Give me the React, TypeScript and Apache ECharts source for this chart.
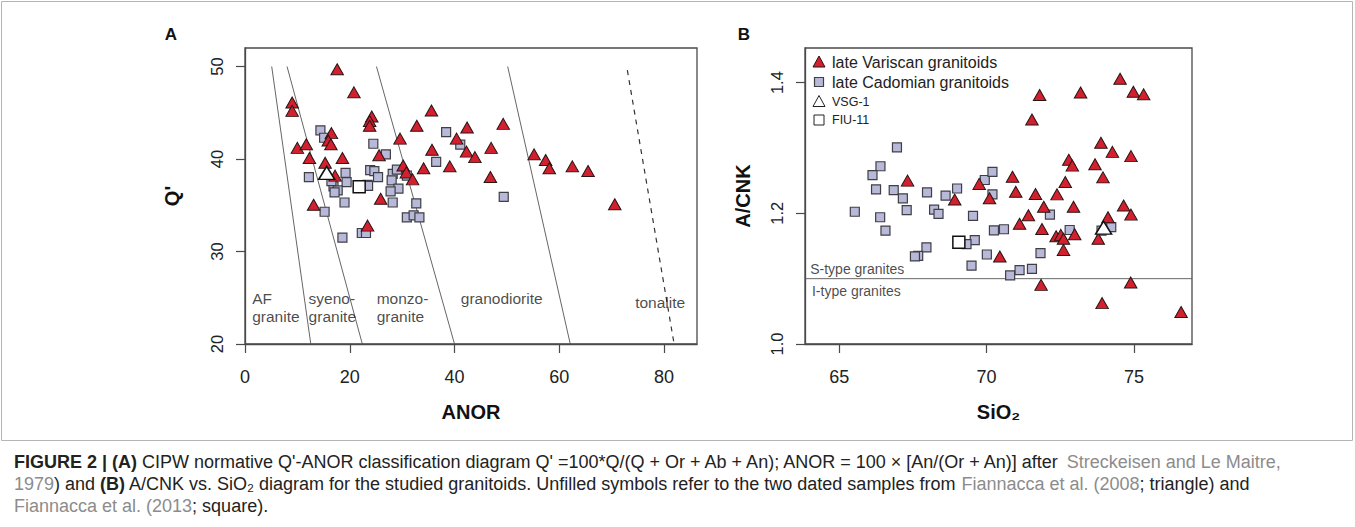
import React, { useEffect, useRef } from 'react';
import * as echarts from 'echarts';

// ---------- DATA ----------
const anorTicks = [0, 20, 40, 60, 80];
const qTicks = [20, 30, 40, 50];
const sio2Ticks = [65, 70, 75];
const acnkTicks = [1.0, 1.2, 1.4];

// Panel A: [ANOR, Q']
const aVariscan = [
  [17.6, 49.7], [20.8, 47.2], [9.0, 46.1], [9.0, 45.2], [24.2, 44.6], [23.8, 44.1], [23.8, 43.6],
  [35.6, 45.25], [32.8, 43.6], [42.4, 43.4], [16.5, 42.8], [15.9, 42.0], [16.4, 41.6], [29.6, 42.2],
  [40.4, 42.2], [10.0, 41.2], [11.7, 41.6], [35.7, 41.0], [42.3, 40.8], [12.3, 40.1], [18.6, 40.1],
  [25.6, 40.4], [15.3, 39.6], [30.2, 39.3], [34.1, 39.0], [39.1, 39.2], [30.8, 38.55], [17.2, 38.2],
  [32.0, 37.8], [13.1, 35.06], [25.9, 35.7], [23.4, 32.8], [49.3, 43.8], [43.9, 40.2], [47.0, 41.2],
  [46.85, 38.05], [55.2, 40.5], [57.4, 39.9], [58.1, 39.0], [62.5, 39.2], [65.5, 38.7], [70.6, 35.1],
];
const aCadomian = [
  [14.4, 43.1], [15.1, 42.3], [24.5, 41.65], [26.9, 40.5], [38.4, 42.9], [41.1, 41.55], [36.5, 39.7],
  [12.2, 38.05], [19.2, 38.5], [19.4, 37.5], [16.9, 37.05], [17.7, 36.6], [17.1, 36.4], [23.9, 38.8],
  [24.7, 38.7], [25.4, 38.05], [23.4, 37.2], [28.2, 38.4], [29.0, 38.85], [28.0, 37.7], [29.3, 36.8],
  [27.8, 36.5], [28.2, 35.3], [19.0, 35.3], [15.2, 34.3], [32.7, 35.2], [30.9, 33.7], [32.2, 33.9],
  [33.3, 33.7], [22.3, 32.0], [23.1, 32.0], [18.6, 31.5], [30.9, 38.2], [49.4, 35.9], [23.5, 37.1],
  [16.5, 37.6],
];
const aVSG1 = [[15.6, 38.5]];
const aFIU11 = [[21.8, 37.0]];

// Panel B: [SiO2, A/CNK]
const bVariscan = [
  [71.8, 1.381], [71.54, 1.3435], [67.32, 1.25], [69.75, 1.245], [68.92, 1.221], [70.1, 1.223],
  [70.88, 1.256], [70.99, 1.233], [71.66, 1.2295], [72.39, 1.229], [71.94, 1.21], [72.67, 1.248],
  [72.95, 1.21], [71.42, 1.197], [71.12, 1.184], [71.88, 1.176], [72.36, 1.165], [72.52, 1.167],
  [72.61, 1.161], [72.99, 1.168], [72.61, 1.144], [73.79, 1.161], [74.65, 1.212], [74.9, 1.198],
  [74.12, 1.194], [70.45, 1.134], [71.85, 1.0905], [74.89, 1.094], [73.92, 1.0626], [76.6, 1.049],
  [74.53, 1.406], [73.19, 1.385], [74.98, 1.386], [75.33, 1.382], [73.88, 1.308], [74.27, 1.294],
  [74.9, 1.2875], [72.79, 1.282], [72.91, 1.273], [73.68, 1.275], [73.95, 1.255],
];
const bCadomian = [
  [66.96, 1.301], [66.4, 1.272], [66.13, 1.2585], [66.25, 1.2366], [66.85, 1.2356], [67.16, 1.223],
  [67.98, 1.232], [68.61, 1.227], [69.0, 1.238], [69.94, 1.251], [70.2, 1.2635], [70.2, 1.229],
  [65.53, 1.2024], [67.29, 1.205], [66.39, 1.194], [66.57, 1.1735], [68.22, 1.2055], [68.37, 1.199],
  [69.54, 1.196], [72.15, 1.198], [70.25, 1.174], [70.59, 1.1756], [72.82, 1.1745], [69.6, 1.159],
  [69.32, 1.153], [67.96, 1.148], [67.68, 1.135], [67.57, 1.134], [70.01, 1.137], [71.83, 1.139],
  [69.49, 1.12], [70.8, 1.105], [71.12, 1.113], [71.54, 1.115], [73.9, 1.1735], [74.23, 1.179],
];
const bVSG1 = [[73.97, 1.178]];
const bFIU11 = [[69.06, 1.1557]];

// Classification field boundaries (panel A)
const fieldBoundaries = [
  [[5.1, 50], [12.56, 20]],
  [[8.03, 50], [22.4, 20]],
  [[25.1, 50], [40.0, 20]],
  [[50.15, 50], [62.1, 20]],
];
const tonaliteBoundary = [[73.0, 49.6], [81.9, 20.1]];
const fieldLabels = [
  { name: 'AF\ngranite', value: [1.28, 23.9] },
  { name: 'syeno-\ngranite', value: [12.05, 23.9] },
  { name: 'monzo-\ngranite', value: [25.05, 23.9] },
  { name: 'granodiorite', value: [41.1, 24.9] },
  { name: 'tonalite', value: [74.4, 24.54] },
];
// S/I-type divide (panel B)
const siDivide = [[63.84, 1.1], [76.97, 1.1]];
const siLabels = [
  { name: 'S-type granites', value: [64.0, 1.1145] },
  { name: 'I-type granites', value: [64.06, 1.0818] },
];

const legendItems = ['late Variscan granitoids', 'late Cadomian granitoids', 'VSG-1', 'FIU-11'];

// ---------- STYLE ----------
const FONT = 'Liberation Sans, Arial, Helvetica, sans-serif';
const RED = '#d3202f';
const LAV = '#b8b9d9';
const BOX = '#4a4a4a';

const gridA = { left: 245, top: 48, width: 452, height: 296 };
const gridB = { left: 805, top: 48, width: 387, height: 296 };

function xAxisBase(min: number, max: number, ticks: number[], gridIndex: number, name: string) {
  return {
    type: 'value', gridIndex, min, max, name,
    nameLocation: 'middle', nameGap: 58,
    nameTextStyle: { fontFamily: FONT, fontWeight: 'bold', fontSize: 20, color: '#111' },
    axisLine: { show: true, onZero: false, lineStyle: { color: BOX, width: 1.3 } },
    axisTick: { show: true, inside: false, length: 9, customValues: ticks, lineStyle: { color: BOX, width: 1.2 } },
    axisLabel: { show: true, customValues: ticks, margin: 24, fontFamily: FONT, fontSize: 18, color: '#222' },
    splitLine: { show: false },
  };
}
function yAxisBase(min: number, max: number, ticks: number[], gridIndex: number, name: string, gap: number, dec: number) {
  return {
    type: 'value', gridIndex, min, max, name,
    nameLocation: 'middle', nameGap: gap, nameRotate: 90,
    nameTextStyle: { fontFamily: FONT, fontWeight: 'bold', fontSize: 20, color: '#111' },
    axisLine: { show: true, onZero: false, lineStyle: { color: BOX, width: 1.3 } },
    axisTick: { show: true, inside: false, length: 9, customValues: ticks, lineStyle: { color: BOX, width: 1.2 } },
    axisLabel: {
      show: true, customValues: ticks, rotate: 90, margin: 20, fontFamily: FONT, fontSize: 16.5, color: '#222',
      formatter: (v: number) => v.toFixed(dec),
    },
    splitLine: { show: false },
  };
}

function scatter(data: number[][], idx: number, kind: string, z: number) {
  const base: any = {
    type: 'scatter', data, xAxisIndex: idx, yAxisIndex: idx, z, silent: true,
  };
  if (kind === 'tri') {
    base.symbol = 'triangle'; base.symbolSize = [12.5, 11];
    base.itemStyle = { color: RED, borderColor: '#2a1414', borderWidth: 1, opacity: 1 };
  } else if (kind === 'sq') {
    base.symbol = 'rect'; base.symbolSize = 9;
    base.itemStyle = { color: LAV, borderColor: '#3f3f46', borderWidth: 1.2, opacity: 1 };
  } else if (kind === 'otri') {
    base.symbol = 'triangle'; base.symbolSize = [16, 13];
    base.itemStyle = { color: '#ffffff', borderColor: '#111', borderWidth: 1.5, opacity: 1 };
  } else {
    base.symbol = 'rect'; base.symbolSize = 12;
    base.itemStyle = { color: '#ffffff', borderColor: '#111', borderWidth: 1.5, opacity: 1 };
  }
  return base;
}

function lineSeries(data: number[][], idx: number, dashed: boolean) {
  return {
    type: 'line', data, xAxisIndex: idx, yAxisIndex: idx, symbol: 'none', silent: true, z: 1,
    lineStyle: { color: dashed ? '#333' : '#555', width: dashed ? 1.2 : 0.9, type: dashed ? [5, 5] : 'solid' },
  };
}

function labelSeries(data: any[], idx: number, fontSize: number) {
  return {
    type: 'scatter', data, xAxisIndex: idx, yAxisIndex: idx, symbolSize: 1, silent: true, z: 2,
    itemStyle: { color: 'rgba(0,0,0,0)' },
    label: {
      show: true, position: 'right', distance: 0, formatter: '{b}',
      fontFamily: FONT, fontSize, lineHeight: 18, color: '#1a1a1a', align: 'left',
    },
  };
}

export default function App() {
  const ref = useRef<HTMLDivElement>(null);
  useEffect(() => {
    document.body.style.margin = '0';
    if (!ref.current) return;
    const chart = echarts.init(ref.current, undefined, { renderer: 'svg' });

    const lx = 819;
    const legendY = [62, 82, 101.5, 120];
    const graphic: any[] = [
      { type: 'rect', shape: { x: 1.5, y: 1.5, width: 1351, height: 439 }, style: { fill: 'none', stroke: '#b5b5b5', lineWidth: 1 }, z: 0 },
      { type: 'text', x: 171, y: 34, style: { text: 'A', fontFamily: FONT, fontWeight: 'bold', fontSize: 17, fill: '#111', align: 'center', verticalAlign: 'middle' } },
      { type: 'text', x: 744, y: 34, style: { text: 'B', fontFamily: FONT, fontWeight: 'bold', fontSize: 17, fill: '#111', align: 'center', verticalAlign: 'middle' } },
      // legend markers
      { type: 'polygon', shape: { points: [[lx - 6, legendY[0] + 5], [lx + 6, legendY[0] + 5], [lx, legendY[0] - 6]] }, style: { fill: RED, stroke: '#2a1414', lineWidth: 1 }, z: 10 },
      { type: 'rect', shape: { x: lx - 4.5, y: legendY[1] - 4.5, width: 9, height: 9 }, style: { fill: LAV, stroke: '#3f3f46', lineWidth: 1.2 }, z: 10 },
      { type: 'polygon', shape: { points: [[lx - 6, legendY[2] + 5], [lx + 6, legendY[2] + 5], [lx, legendY[2] - 6]] }, style: { fill: '#fff', stroke: '#222', lineWidth: 1 }, z: 10 },
      { type: 'rect', shape: { x: lx - 5, y: legendY[3] - 5, width: 10, height: 10 }, style: { fill: '#fff', stroke: '#222', lineWidth: 1 }, z: 10 },
      { type: 'text', x: 832, y: legendY[0], style: { text: legendItems[0], fontFamily: FONT, fontSize: 16, fill: '#222', verticalAlign: 'middle' }, z: 10 },
      { type: 'text', x: 832, y: legendY[1], style: { text: legendItems[1], fontFamily: FONT, fontSize: 16, fill: '#222', verticalAlign: 'middle' }, z: 10 },
      { type: 'text', x: 832, y: legendY[2], style: { text: legendItems[2], fontFamily: FONT, fontSize: 12.5, fill: '#222', verticalAlign: 'middle' }, z: 10 },
      { type: 'text', x: 832, y: legendY[3], style: { text: legendItems[3], fontFamily: FONT, fontSize: 12.5, fill: '#222', verticalAlign: 'middle' }, z: 10 },
    ];
    const CAP = 18;
    const capStyle = {
      fontFamily: FONT, fontSize: CAP, fill: '#222', verticalAlign: 'middle',
      rich: {
        b: { fontFamily: FONT, fontSize: CAP, fontWeight: 'bold', fill: '#222' },
        g: { fontFamily: FONT, fontSize: CAP, fill: '#8c8c8c' },
      },
    };
    const capLines = [
      "{b|FIGURE 2 | (A)} CIPW normative Q'-ANOR classification diagram Q' =100*Q/(Q + Or + Ab + An); ANOR = 100 × [An/(Or + An)] after{g| Streckeisen and Le Maitre,}",
      '{g|1979}) and {b|(B)} A/CNK vs. SiO₂ diagram for the studied granitoids. Unfilled symbols refer to the two dated samples from {g|Fiannacca et al. (2008}; triangle) and',
      '{g|Fiannacca et al. (2013}; square).',
    ];
    capLines.forEach((t, i) => {
      graphic.push({ type: 'text', x: 14, y: 462 + i * 22, style: { ...capStyle, text: t } });
    });

    const option: any = {
      animation: false,
      backgroundColor: '#ffffff',
      grid: [
        { ...gridA, show: true, borderColor: BOX, borderWidth: 1.3, backgroundColor: 'transparent' },
        { ...gridB, show: true, borderColor: BOX, borderWidth: 1.3, backgroundColor: 'transparent' },
      ],
      xAxis: [
        xAxisBase(0, 86.3, anorTicks, 0, 'ANOR'),
        xAxisBase(63.84, 76.97, sio2Ticks, 1, 'SiO₂'),
      ],
      yAxis: [
        yAxisBase(20, 52, qTicks, 0, "Q'", 63, 0),
        yAxisBase(1.0, 1.453, acnkTicks, 1, 'A/CNK', 52, 1),
      ],
      series: [
        ...fieldBoundaries.map((d) => lineSeries(d, 0, false)),
        lineSeries(tonaliteBoundary, 0, true),
        labelSeries(fieldLabels, 0, 15.5),
        scatter(aCadomian, 0, 'sq', 3),
        scatter(aVariscan, 0, 'tri', 4),
        scatter(aVSG1, 0, 'otri', 5),
        scatter(aFIU11, 0, 'osq', 5),
        lineSeries(siDivide, 1, false),
        labelSeries(siLabels, 1, 14),
        scatter(bCadomian, 1, 'sq', 3),
        scatter(bVariscan, 1, 'tri', 4),
        scatter(bVSG1, 1, 'otri', 5),
        scatter(bFIU11, 1, 'osq', 5),
      ],
      graphic,
    };
    chart.setOption(option);
    return () => chart.dispose();
  }, []);
  return <div ref={ref} style={{ width: 1355, height: 527 }} />;
}
